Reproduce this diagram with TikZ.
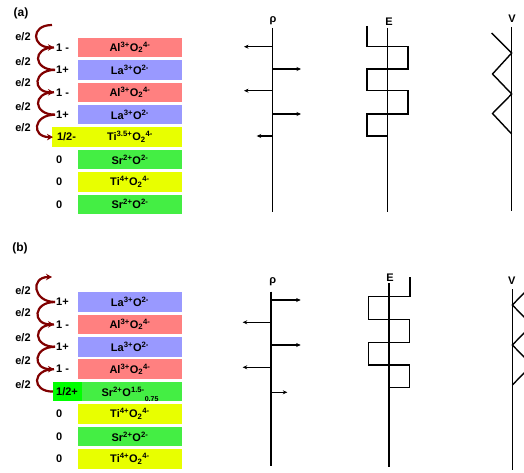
\documentclass[tikz,border=0pt]{standalone}
\usepackage{fontspec}
\setmainfont{Liberation Sans}
\usetikzlibrary{positioning, arrows.meta}

\newcommand{\AlOx}{Al\textsuperscript{3+}O\textsubscript{2}\textsuperscript{4-}}
\newcommand{\LaOx}{La\textsuperscript{3+}O\textsuperscript{2-}}
\newcommand{\TiOx}{Ti\textsuperscript{4+}O\textsubscript{2}\textsuperscript{4-}}
\newcommand{\SrOx}{Sr\textsuperscript{2+}O\textsuperscript{2-}}
\newcommand{\TiOhalf}{Ti\textsuperscript{3.5+}O\textsubscript{2}\textsuperscript{4-}}
\newcommand{\SrOhalf}{Sr\textsuperscript{2+}O\textsuperscript{1.5-}\smash{\raisebox{-5pt}{\scriptsize 0.75}}}

\tikzset{
  box/.style={minimum width=104pt, minimum height=19.5pt, inner sep=0pt, font=\fontsize{11}{13}\selectfont\bfseries},
  chg/.style={anchor=west, inner sep=0pt, font=\fontsize{11}{13}\selectfont\bfseries},
  half/.style={minimum width=29pt, minimum height=19.5pt, inner sep=0pt, font=\fontsize{11}{13}\selectfont\bfseries},
  elab/.style={inner sep=0pt, font=\fontsize{11}{13}\selectfont\bfseries},
  hop/.style={draw=hopcolor, line width=2.2pt},
  hoptip/.style={hop, -{Stealth[length=6pt, width=6.5pt]}},
  axis/.style={line width=1.4pt},
  rhoarr/.style={line width=1.2pt, -{Stealth[length=4.5pt, width=4pt]}},
  prof/.style={line width=1.4pt, line join=miter},
}

\begin{document}
\begin{tikzpicture}[x=1pt, y=-1pt]
        % Define some colors for convenience
        \definecolor{alcolor}{RGB}{255,128,128} % AlO2 layer
        \definecolor{lacolor}{RGB}{153,153,255} % LaO layer
        \definecolor{ticolor}{RGB}{232,255,0} % TiO2 layer
        \definecolor{srcolor}{RGB}{68,238,68} % SrO layer
        \definecolor{holecolor}{RGB}{0,255,0} % 1/2+ layer
        \definecolor{hopcolor}{RGB}{128,0,0} % e/2 arrows

        \clip (0,0) rectangle (524,473); % picture frame

        % ---------------- panel (a) ----------------
        \node[elab, font=\fontsize{12}{14}\selectfont\bfseries] (pa) at (21,13) {(a)};

        % Layers
        \node[box, fill=alcolor] (a1) at (130,47.5) {\AlOx};
        \node[box, fill=lacolor] (a2) at (130,69.9) {\LaOx};
        \node[box, fill=alcolor] (a3) at (130,92.3) {\AlOx};
        \node[box, fill=lacolor] (a4) at (130,114.7) {\LaOx};
        \node[box, fill=ticolor] (a5) at (130,137.1) {\TiOhalf};
        \node[box, fill=srcolor] (a6) at (130,159.5) {\SrOx};
        \node[box, fill=ticolor] (a7) at (130,181.9) {\TiOx};
        \node[box, fill=srcolor] (a8) at (130,204.3) {\SrOx};

        % Layer charges
        \node[chg] (qa1) at (56,47.5) {1 -};
        \node[chg] (qa2) at (56,69.9) {1+};
        \node[chg] (qa3) at (56,92.3) {1 -};
        \node[chg] (qa4) at (56,114.7) {1+};
        \node[half, fill=ticolor] (qa5) at (66.5,137.1) {1/2-};
        \node[chg] (qa6) at (56,159.5) {0};
        \node[chg] (qa7) at (56,181.9) {0};
        \node[chg] (qa8) at (56,204.3) {0};

        % Electron transfer
        \coordinate (ha0) at (52,25);
        \coordinate (ha1) at (54,47.5);
        \coordinate (ha2) at (55,69.9);
        \coordinate (ha3) at (54,92.3);
        \coordinate (ha4) at (55,114.7);
        \coordinate (ha5) at (53,137.1);
        \draw[hoptip] (ha0) .. controls +(-22,0) and +(-22,0) .. (ha1);
        \draw[hop] (ha1) .. controls +(-22,0) and +(-22,0) .. (ha2);
        \draw[hoptip] (ha2) .. controls +(-22,0) and +(-22,0) .. (ha3);
        \draw[hop] (ha3) .. controls +(-22,0) and +(-22,0) .. (ha4);
        \draw[hoptip] (ha4) .. controls +(-22,0) and +(-22,0) .. (ha5);
        \node[elab] (ea1) at (23,37) {e/2};
        \node[elab] (ea2) at (23,62) {e/2};
        \node[elab] (ea3) at (23,83) {e/2};
        \node[elab] (ea4) at (23,107) {e/2};
        \node[elab] (ea5) at (23,128) {e/2};

        % Charge density
        \node[elab] (rhoa) at (273,21) {ρ};
        \coordinate (rhoa-top) at (272.7,28);
        \coordinate (rhoa-bot) at (272.7,212);
        \draw[axis] (rhoa-top) -- (rhoa-bot);
        \foreach \y/\x in {46.7/244, 69/301, 90.7/244, 114/301, 136/256.7}
          \draw[rhoarr] (272.7,\y) -- (\x,\y);

        % Field
        \node[elab] (Ea) at (389,22) {E};
        \coordinate (Ea-top) at (387.3,28);
        \coordinate (Ea-bot) at (387.3,212);
        \draw[axis] (Ea-top) -- (Ea-bot);
        \draw[prof] (367,26) |- (408,46.7) |- (367,69) |- (408,90.7) |- (367,114) |- (387.3,136);

        % Potential
        \node[elab] (Va) at (512,19) {V};
        \coordinate (Va-top) at (511.7,27);
        \coordinate (Va-bot) at (511.7,211);
        \draw[axis] (Va-top) -- (Va-bot);
        \draw[prof] (491.7,33) -- (511.7,53) -- (492.5,74) -- (511.7,94) -- (492.5,113.5) -- (511.7,134);

        % ---------------- panel (b) ----------------
        \node[elab, font=\fontsize{12}{14}\selectfont\bfseries] (pb) at (20,248) {(b)};

        % Layers
        \node[box, fill=lacolor] (b1) at (130,302) {\LaOx};
        \node[box, fill=alcolor] (b2) at (130,324.4) {\AlOx};
        \node[box, fill=lacolor] (b3) at (130,346.8) {\LaOx};
        \node[box, fill=alcolor] (b4) at (130,369.2) {\AlOx};
        \node[box, fill=srcolor] (b5) at (130,391.6) {\SrOhalf};
        \node[box, fill=ticolor] (b6) at (130,414) {\TiOx};
        \node[box, fill=srcolor] (b7) at (130,436.4) {\SrOx};
        \node[box, fill=ticolor] (b8) at (130,458.8) {\TiOx};

        % Layer charges
        \node[chg] (qb1) at (56,302) {1+};
        \node[chg] (qb2) at (56,324.4) {1 -};
        \node[chg] (qb3) at (56,346.8) {1+};
        \node[chg] (qb4) at (56,369.2) {1 -};
        \node[half, fill=holecolor] (qb5) at (67,391.6) {1/2+};
        \node[chg] (qb6) at (56,414) {0};
        \node[chg] (qb7) at (56,436.4) {0};
        \node[chg] (qb8) at (56,458.8) {0};

        % Electron transfer
        \coordinate (hb0) at (52,277);
        \coordinate (hb1) at (55,302);
        \coordinate (hb2) at (54,324.4);
        \coordinate (hb3) at (55,346.8);
        \coordinate (hb4) at (54,369.2);
        \coordinate (hb5) at (53,391.6);
        \draw[hoptip] (hb1) .. controls +(-22,0) and +(-22,0) .. (hb0);
        \draw[hoptip] (hb1) .. controls +(-22,0) and +(-22,0) .. (hb2);
        \draw[hop] (hb2) .. controls +(-22,0) and +(-22,0) .. (hb3);
        \draw[hoptip] (hb3) .. controls +(-22,0) and +(-22,0) .. (hb4);
        \draw[hop] (hb4) .. controls +(-22,0) and +(-22,0) .. (hb5);
        \node[elab] (eb1) at (23,291) {e/2};
        \node[elab] (eb2) at (23,313) {e/2};
        \node[elab] (eb3) at (23,338) {e/2};
        \node[elab] (eb4) at (23,361) {e/2};
        \node[elab] (eb5) at (23,385) {e/2};

        % Charge density
        \node[elab] (rhob) at (272.7,282) {ρ};
        \coordinate (rhob-top) at (271,291.7);
        \coordinate (rhob-bot) at (271,466);
        \draw[axis] (rhob-top) -- (rhob-bot);
        \foreach \y/\x in {300/300.7, 322.3/242.7, 345/300.7, 367.3/242.7, 392.3/287.3}
          \draw[rhoarr] (271,\y) -- (\x,\y);

        % Field
        \node[elab] (Eb) at (390,278) {E};
        \coordinate (Eb-top) at (389,283);
        \coordinate (Eb-bot) at (389,466.7);
        \draw[axis] (Eb-top) -- (Eb-bot);
        \draw[prof] (410,277.3) |- (368.7,296.7) |- (409.5,319.3) |- (368.7,342.3) |- (409.5,365) |- (389,387.7);

        % Potential
        \node[elab] (Vb) at (511.7,280.7) {V};
        \coordinate (Vb-top) at (512.3,289);
        \coordinate (Vb-bot) at (512.3,470);
        \draw[axis] (Vb-top) -- (Vb-bot);
        \draw[prof] (532,285) -- (512.3,305) -- (532,325) -- (512.3,345) -- (532,365) -- (512.3,385);
\end{tikzpicture}
\end{document}
